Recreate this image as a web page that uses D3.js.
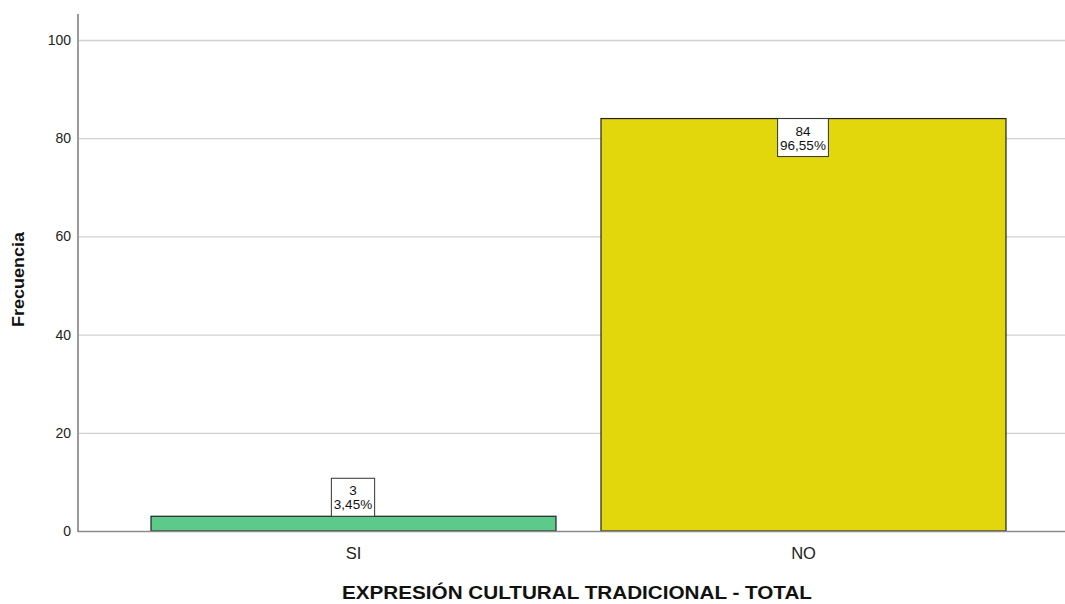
<!DOCTYPE html>
<html><head><meta charset="utf-8">
<script src="https://cdn.jsdelivr.net/npm/d3@7"></script>
<style>body{margin:0;background:#fff}svg{display:block}text{font-family:"Liberation Sans",Arial,sans-serif}</style>
</head><body>
<svg id="c" width="1065" height="604"></svg>
<script>
const categories = ["SI", "NO"];
const counts = [3, 84];
const percents = ["3,45%", "96,55%"];
const yTicks = [0, 20, 40, 60, 80, 100];
const colors = ["#5bca8a", "#e2d70d"];

const svg = d3.select("#c");
const x0 = 78, x1 = 1065, yBase = 531, yTop = 14;
const y = d3.scaleLinear().domain([0, 100]).range([yBase, 40]);
const x = d3.scaleBand().domain(categories).range([128, 1028]).paddingInner(0.1).paddingOuter(0.05);

// gridlines
svg.append("g").selectAll("line").data(yTicks.filter(d => d > 0)).join("line")
  .attr("x1", x0).attr("x2", x1).attr("y1", d => y(d) + 0.5).attr("y2", d => y(d) + 0.5)
  .attr("stroke", "#d0d0d0").attr("stroke-width", 1.3);

// y tick labels
svg.append("g").selectAll("text").data(yTicks).join("text")
  .attr("x", 71).attr("y", d => y(d)).attr("dy", "0.36em")
  .attr("text-anchor", "end").attr("font-size", 14).attr("fill", "#222")
  .text(d => d);

// bars
const data = categories.map((c, i) => ({c, v: counts[i], p: percents[i], col: colors[i]}));
svg.append("g").selectAll("rect").data(data).join("rect")
  .attr("x", d => x(d.c) + 0.5).attr("y", d => y(d.v))
  .attr("width", x.bandwidth()).attr("height", d => yBase - y(d.v))
  .attr("fill", d => d.col).attr("stroke", "#222").attr("stroke-width", 1.2);

// axes lines
svg.append("line").attr("x1", x0).attr("x2", x0).attr("y1", yTop).attr("y2", yBase + 1)
  .attr("stroke", "#9a9a9a").attr("stroke-width", 2);
svg.append("line").attr("x1", x0).attr("x2", x1).attr("y1", yBase + 0.5).attr("y2", yBase + 0.5)
  .attr("stroke", "#8a8a8a").attr("stroke-width", 1.5);

// value labels
const lab = svg.append("g").selectAll("g").data(data).join("g");
lab.each(function(d) {
  const g = d3.select(this);
  const cx = x(d.c) + x.bandwidth() / 2;
  const inside = (yBase - y(d.v)) > 60;
  const t1 = g.append("text").attr("text-anchor", "middle").attr("font-size", 13.5).attr("fill", "#111").text(d.v);
  const t2 = g.append("text").attr("text-anchor", "middle").attr("font-size", 13.5).attr("fill", "#111").text(d.p);
  const w = Math.max(t1.node().getComputedTextLength(), t2.node().getComputedTextLength()) + 5;
  const h = 38;
  const top = inside ? y(d.v) : y(d.v) - h;
  g.insert("rect", "text").attr("x", cx - w / 2).attr("y", top).attr("width", w).attr("height", h)
    .attr("fill", "#fff").attr("stroke", "#333").attr("stroke-width", 1);
  t1.attr("x", cx).attr("y", top + 17);
  t2.attr("x", cx).attr("y", top + 31);
});

// x tick labels
svg.append("g").selectAll("text").data(categories).join("text")
  .attr("x", d => x(d) + x.bandwidth() / 2 + 0.5).attr("y", 559)
  .attr("text-anchor", "middle").attr("font-size", 16.5).attr("fill", "#222")
  .text(d => d);

// axis titles
svg.append("text").attr("x", 342).attr("y", 599)
  .attr("font-size", 18).attr("font-weight", "bold").attr("fill", "#111")
  .attr("textLength", 470).attr("lengthAdjust", "spacingAndGlyphs")
  .text("EXPRESIÓN CULTURAL TRADICIONAL - TOTAL");
svg.append("text").attr("transform", "translate(24,327) rotate(-90)")
  .attr("font-size", 17).attr("font-weight", "bold").attr("fill", "#111")
  .attr("textLength", 95).attr("lengthAdjust", "spacingAndGlyphs")
  .text("Frecuencia");
</script>
</body></html>
